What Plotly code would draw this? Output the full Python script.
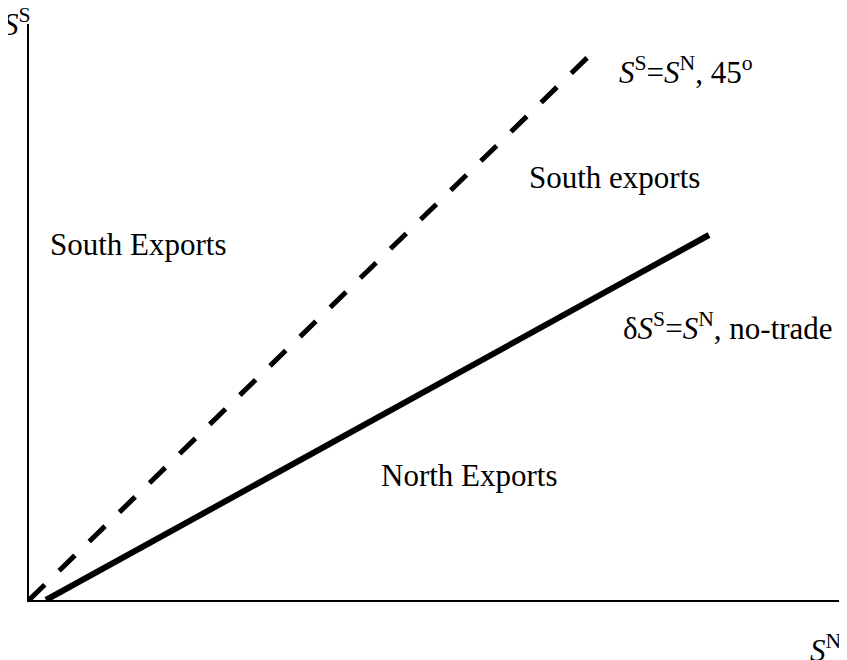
import plotly.graph_objects as go

# Data (plot units: origin at axes corner)
line45_x = [0, 561]
line45_y = [0, 545]
notrade_x = [17, 680]
notrade_y = [0, 365]

label_texts = [
    "<i>S</i><sup>S</sup>",
    "<i>S</i><sup>S</sup>=<i>S</i><sup>N</sup>, 45<sup>o</sup>",
    "South exports",
    "South Exports",
    "δ<i>S</i><sup>S</sup>=<i>S</i><sup>N</sup>, no-trade",
    "North Exports",
    "<i>S</i><sup>N</sup>",
]
label_x = [-27, 589, 499, 20, 593, 351, 814]
label_y = [577, 529, 423, 356, 274, 125, -48]
label_anchor = ["left", "left", "left", "left", "left", "left", "right"]

FONT = "Liberation Serif, Times New Roman, serif"
XMAX = 814
YMAX = 576

fig = go.Figure()
fig.add_trace(go.Scatter(x=line45_x, y=line45_y, mode="lines",
                         line=dict(color="black", width=5, dash="22px,20px"),
                         hoverinfo="skip"))
fig.add_trace(go.Scatter(x=notrade_x, y=notrade_y, mode="lines",
                         line=dict(color="black", width=6),
                         hoverinfo="skip"))

for t, x, y, a in zip(label_texts, label_x, label_y, label_anchor):
    fig.add_annotation(x=x / XMAX, y=y / YMAX, xref="paper", yref="paper",
                       text=t, showarrow=False, xanchor=a, borderpad=0,
                       yanchor="middle", font=dict(family=FONT, size=31, color="black"))

fig.update_layout(
    width=839, height=652,
    margin=dict(l=21, r=4, t=16, b=60),
    paper_bgcolor="white", plot_bgcolor="white",
    showlegend=False,
    xaxis=dict(range=[0, XMAX], showgrid=False, zeroline=False, showticklabels=False,
               ticks="", showline=True, linecolor="black", linewidth=2, fixedrange=True),
    yaxis=dict(range=[0, YMAX], showgrid=False, zeroline=False, showticklabels=False,
               ticks="", showline=True, linecolor="black", linewidth=2, fixedrange=True),
)

fig.write_html("out.html")
